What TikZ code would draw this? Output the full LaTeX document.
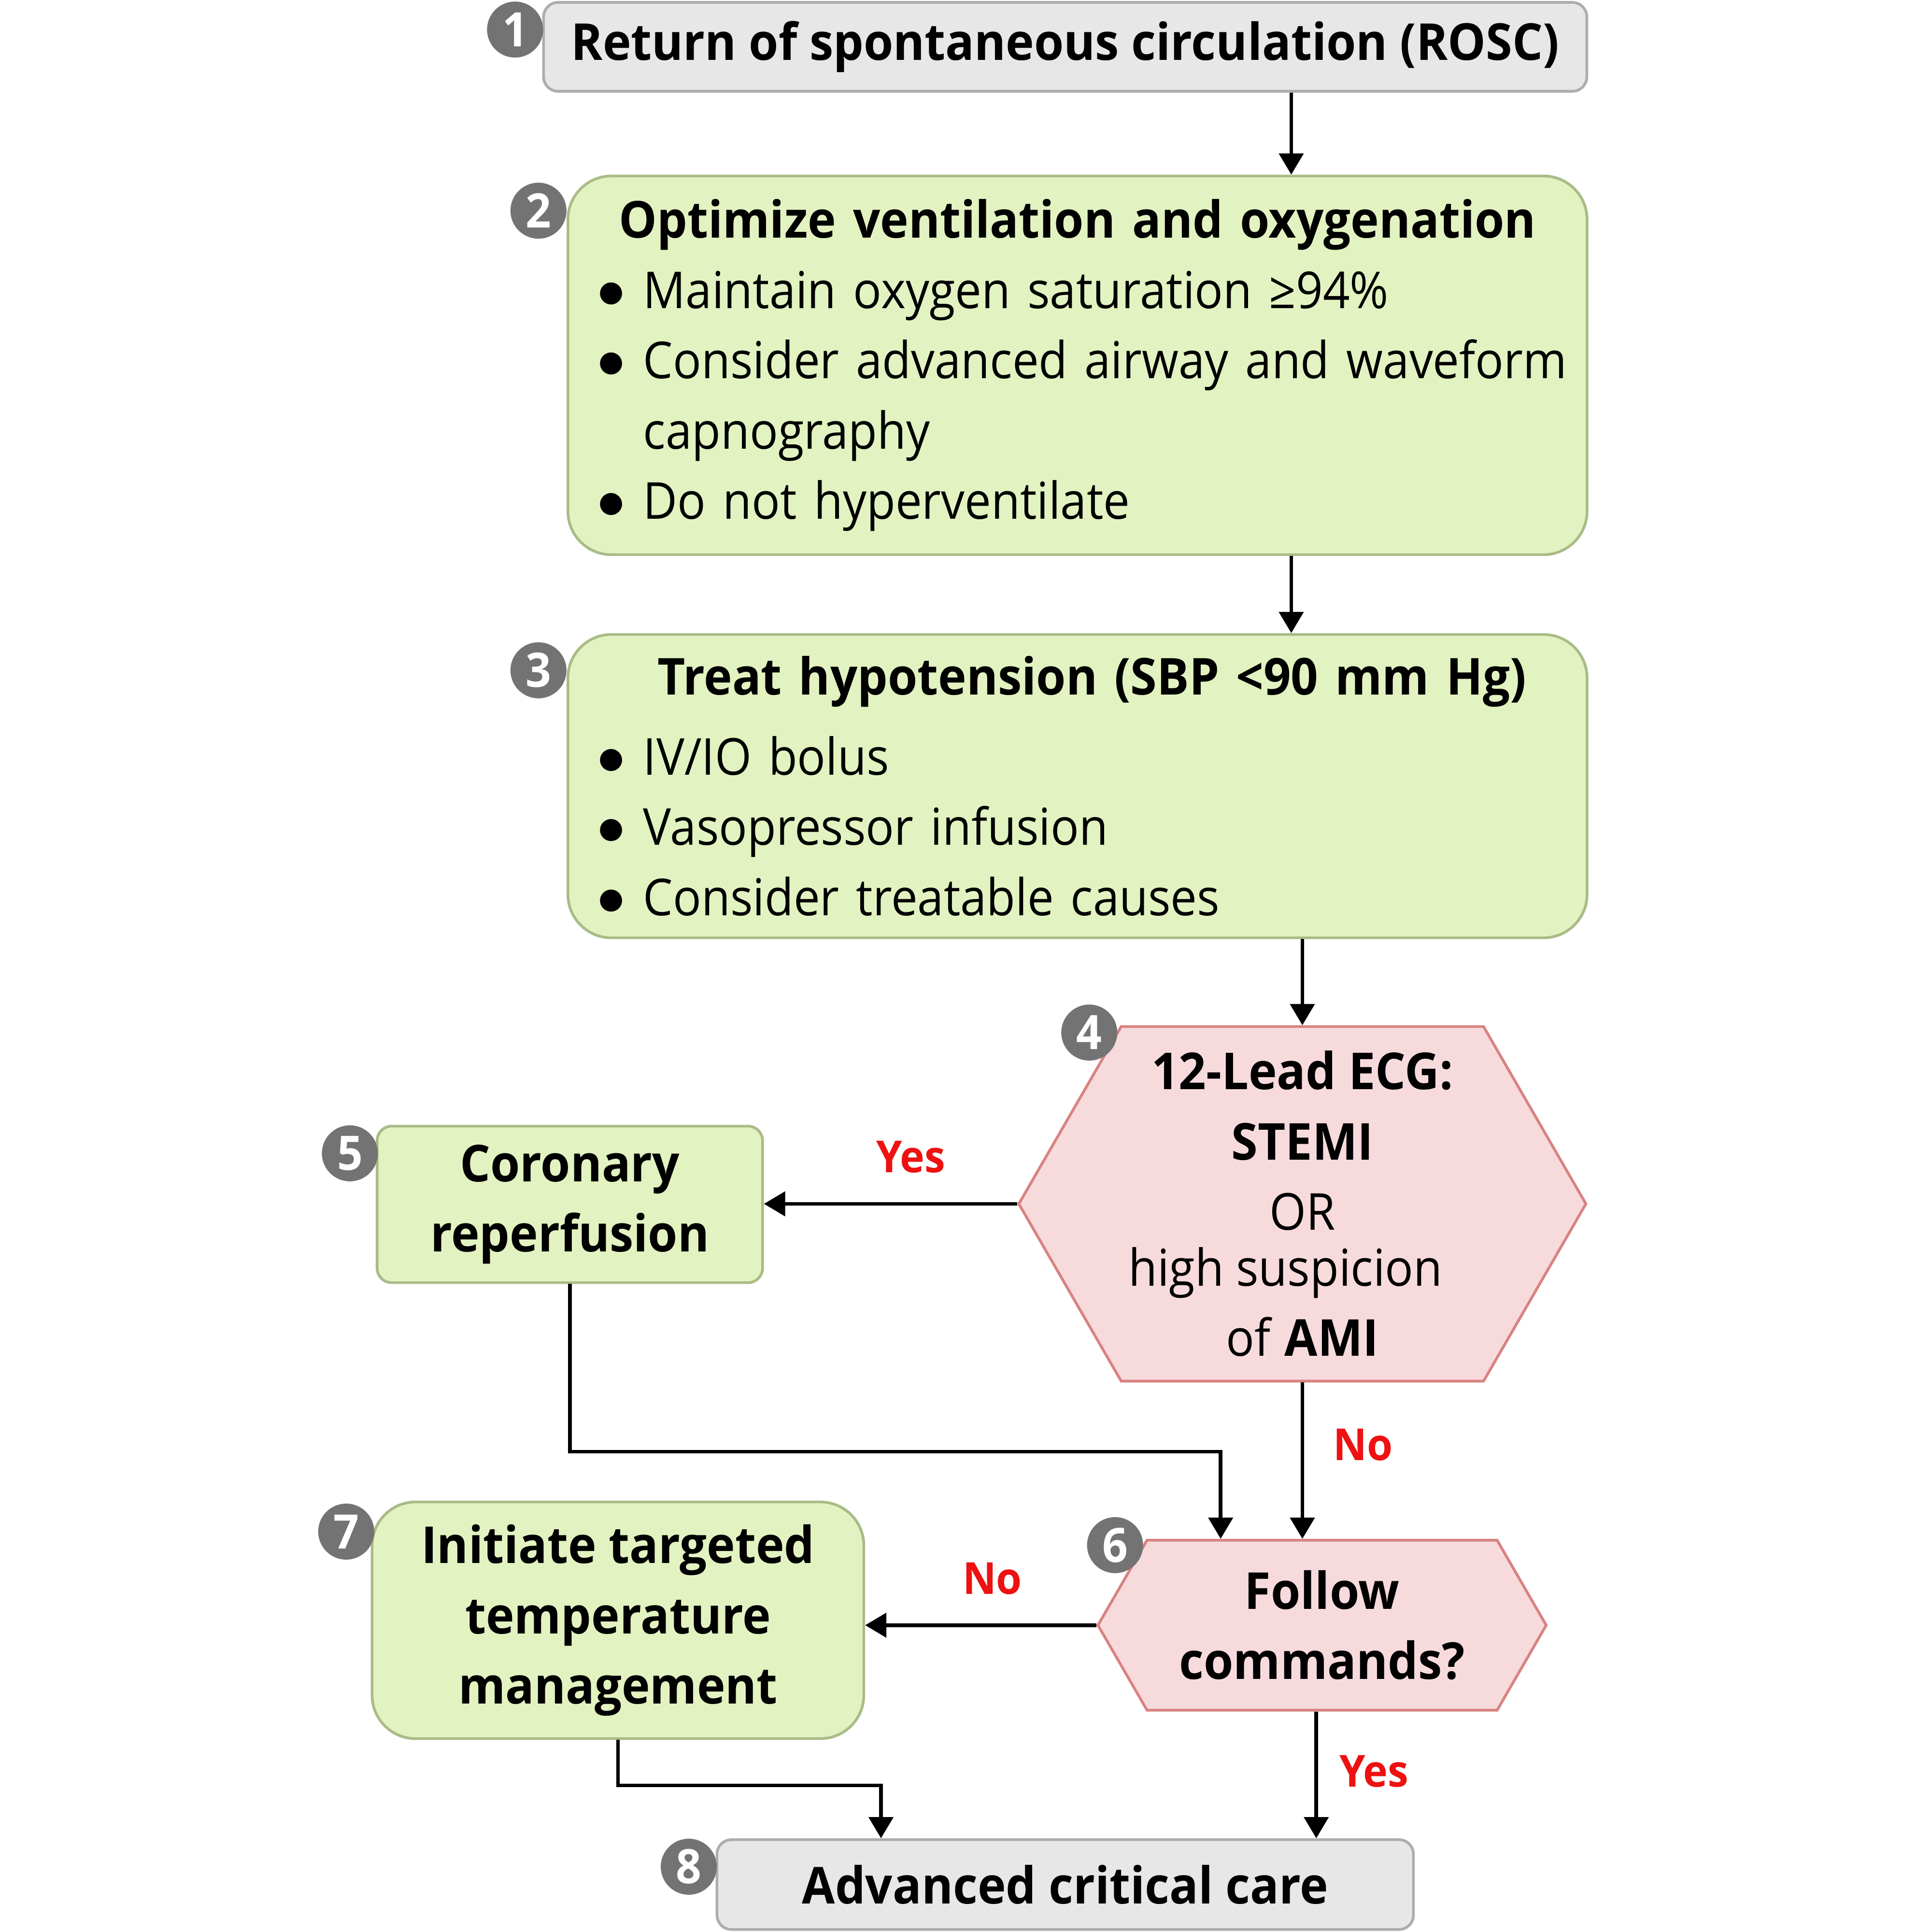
\documentclass[tikz,border=0pt]{standalone}
\usepackage{fontspec}
\setmainfont{Open Sans}[UprightFeatures={FakeStretch=0.925}, BoldFeatures={FakeStretch=0.94}]
\newfontfamily\dotfont{DejaVu Sans}
\usetikzlibrary{arrows.meta, positioning, shapes.symbols, calc}

\definecolor{greenfill}{HTML}{E2F3C1}
\definecolor{greenline}{HTML}{A9BC88}
\definecolor{grayfill}{HTML}{E7E7E7}
\definecolor{grayline}{HTML}{ADADAD}
\definecolor{pinkfill}{HTML}{F7DBDC}
\definecolor{pinkline}{HTML}{D98282}
\definecolor{numgray}{HTML}{737373}
\definecolor{yesno}{HTML}{EE1111}

% bullet line with hanging indent
\newcommand{\bitem}[1]{\par\noindent\hangindent=0.6cm\hangafter=1%
  \hspace*{0.14cm}\makebox[0.46cm][l]{\raisebox{0.075cm}{\dotfont\fontsize{8.5}{8.5}\selectfont ●}}#1}

\begin{document}
\begin{tikzpicture}[
  every node/.style={font=\fontsize{15}{20.7}\selectfont},
  graybox/.style={rectangle, rounded corners=0.15cm, draw=grayline, fill=grayfill,
                  line width=0.8pt, inner sep=0pt, font=\bfseries\fontsize{15}{20.7}\selectfont},
  greenbox/.style={rectangle, rounded corners=0.45cm, draw=greenline, fill=greenfill,
                   line width=0.8pt, inner xsep=0.18cm, inner ysep=0pt},
  pinkhex/.style={signal, signal to=west and east, signal pointer angle=120,
                  draw=pinkline, fill=pinkfill, line width=0.8pt, inner sep=0pt, align=center},
  num/.style={circle, fill=numgray, text=white, inner sep=0pt, minimum size=0.58cm,
              font=\bfseries\fontsize{14}{14}\selectfont},
  lbl/.style={text=yesno, inner sep=0pt, font=\bfseries\fontsize{13}{13}\selectfont},
  arr/.style={-{Triangle[length=2.2mm, width=2.5mm]}, line width=1.1pt}
]
\useasboundingbox (0,0) rectangle (20,-20);

% boxes
\node[graybox, minimum width=10.80cm, minimum height=0.92cm] (rosc) at (11.027,-0.485)
  {Return of spontaneous circulation (ROSC)};
\node[greenbox, minimum width=10.55cm, minimum height=3.92cm, text width=10.19cm, align=left]
  (opt) at (11.154,-3.782)
  {\hyphenpenalty=10000{\centering\bfseries Optimize ventilation and oxygenation\par}
   \bitem{Maintain oxygen saturation ≥94\%}
   \bitem{\mbox{Consider advanced airway and waveform}\newline capnography}
   \bitem{Do not hyperventilate}};
\node[greenbox, minimum width=10.55cm, minimum height=3.14cm, text width=10.19cm, align=left]
  (hyp) at (11.154,-8.138)
  {\hyphenpenalty=10000{\centering\bfseries\hspace*{0.3cm}Treat hypotension (SBP <90 mm Hg)\par\vspace{0.1cm}}
   \bitem{IV/IO bolus}
   \bitem{Vasopressor infusion}
   \bitem{Consider treatable causes}};
\node[pinkhex, minimum width=5.87cm, minimum height=3.67cm] (ecg) at (13.482,-12.462)
  {\textbf{12-Lead ECG:}\\ \textbf{STEMI}\\ OR\\[-0.15cm] \mbox{high suspicion\hspace{0.35cm}}\\ of \textbf{AMI}};
\node[greenbox, rounded corners=0.15cm, minimum width=3.99cm, minimum height=1.62cm,
      align=center, font=\bfseries\fontsize{15}{20.7}\selectfont] (reperf) at (5.899,-12.468)
  {Coronary\\ reperfusion};
\node[pinkhex, minimum width=4.64cm, minimum height=1.76cm,
      font=\bfseries\fontsize{15}{20.7}\selectfont] (fc) at (13.686,-16.824)
  {Follow\\ commands?};
\node[greenbox, minimum width=5.09cm, minimum height=2.45cm, align=center,
      font=\bfseries\fontsize{15}{20.7}\selectfont] (ttm) at (6.397,-16.773)
  {Initiate targeted\\ temperature\\ management};
\node[graybox, minimum width=7.21cm, minimum height=0.93cm] (acc) at (11.027,-19.509)
  {Advanced critical care};

% step numbers
\node[num] (n1) at (5.332,-0.306) {1};
\node[num] (n2) at (5.574,-2.181) {2};
\node[num] (n3) at (5.574,-6.939) {3};
\node[num] (n4) at (11.276,-10.689) {4};
\node[num] (n5) at (3.622,-11.939) {5};
\node[num] (n6) at (11.543,-15.995) {6};
\node[num] (n7) at (3.584,-15.855) {7};
\node[num] (n8) at (7.130,-19.324) {8};

% connectors
\coordinate (a12) at ([xshift=2.34cm]rosc.south);
\coordinate (a23) at ([xshift=2.213cm]opt.south);
\coordinate (j56) at ([xshift=-1.05cm]fc.north);
\coordinate (j78) at ([xshift=-1.907cm]acc.north);
\coordinate (a68) at ([xshift=-0.06cm]fc.south);
\draw[arr] (a12) -- (a12 |- opt.north);
\draw[arr] (a23) -- (a23 |- hyp.north);
\draw[arr] (ecg.north |- hyp.south) -- (ecg.north);
\draw[arr] (ecg.west) -- node[lbl, above=0.3cm, pos=0.42] {Yes} (ecg.west -| reperf.east);
\draw[arr] (reperf.south) -- ++(0,-1.735) -| (j56);
\draw[arr] (ecg.south) -- node[lbl, right=0.3cm, pos=0.4] {No} (ecg.south |- fc.north);
\draw[arr] (fc.west) -- node[lbl, above=0.3cm, pos=0.45] {No} (fc.west -| ttm.east);
\draw[arr] (ttm.south) -- ++(0,-0.47) -| (j78);
\draw[arr] (a68) -- node[lbl, right=0.22cm, pos=0.47] {Yes} (a68 |- acc.north);
\end{tikzpicture}
\end{document}
